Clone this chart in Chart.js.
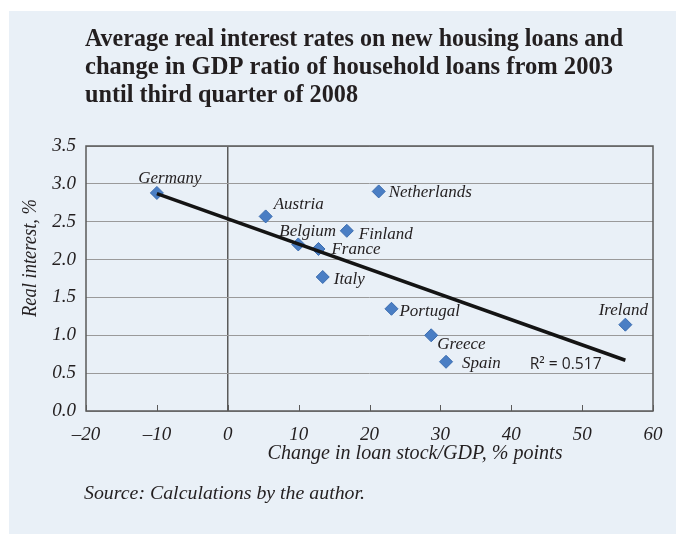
<!DOCTYPE html>
<html>
<head>
<meta charset="utf-8">
<script src="https://cdn.jsdelivr.net/npm/chart.js@4/dist/chart.umd.min.js"></script>
<style>
html,body{margin:0;padding:0;background:#fff;}
#wrap{width:676px;height:534px;position:relative;}
</style>
</head>
<body>
<div id="wrap"><canvas id="c" width="676" height="534"></canvas></div>
<script>
// ---- data ----
const countries    = ['Germany','Austria','Belgium','France','Italy','Finland','Netherlands','Portugal','Greece','Spain','Ireland'];
const loanChange   = [-10.0, 5.35, 9.95, 12.8, 13.4, 16.8, 21.3, 23.1, 28.7, 30.8, 56.1];
const realInterest = [2.88, 2.57, 2.20, 2.14, 1.77, 2.38, 2.90, 1.35, 1.00, 0.65, 1.14];
const trendX = [-10, 56.1];
const trendY = [2.87, 0.67];
const rSquaredText = 'R² = 0.517';
const xTickValues = [-20, -10, 0, 10, 20, 30, 40, 50, 60];
const xTickLabels = ['–20', '–10', '0', '10', '20', '30', '40', '50', '60'];
const yTickValues = [0, 0.5, 1, 1.5, 2, 2.5, 3, 3.5];
const yTickLabels = ['0.0', '0.5', '1.0', '1.5', '2.0', '2.5', '3.0', '3.5'];
const titleLines = ['Average real interest rates on new housing loans and',
                    'change in GDP ratio of household loans from 2003',
                    'until third quarter of 2008'];
const xAxisTitle = 'Change in loan stock/GDP, % points';
const yAxisTitle = 'Real interest, %';
const sourceText = 'Source: Calculations by the author.';

// ---- label placement (pixel offsets from each point) ----
const labelPlacement = {
  Germany:     {dx: 13,  dy: -10, align: 'center'},
  Austria:     {dx: 8,   dy: -7,  align: 'left'},
  Belgium:     {dx: -19, dy: -8,  align: 'left'},
  Finland:     {dx: 12,  dy: 8,   align: 'left'},
  France:      {dx: 13,  dy: 5,   align: 'left'},
  Italy:       {dx: 11,  dy: 7,   align: 'left'},
  Netherlands: {dx: 10,  dy: 6,   align: 'left'},
  Portugal:    {dx: 8,   dy: 7,   align: 'left'},
  Greece:      {dx: 6,   dy: 14,  align: 'left'},
  Spain:       {dx: 16,  dy: 6,   align: 'left'},
  Ireland:     {dx: -2,  dy: -10, align: 'center'}
};
const rSquaredPos = {x: 42.6, y: 0.56};

const TEXT = '#231f20';
const SERIF = '"Liberation Serif", "DejaVu Serif", serif';
const BORDER = '#5a5a5a';
const GRID = '#9a9a9a';

function fitText(ctx, text, x, y, width, font, align) {
  ctx.font = font;
  const w = ctx.measureText(text).width;
  const s = width / w;
  ctx.save();
  ctx.translate(x, y);
  ctx.scale(s, 1);
  ctx.textAlign = align;
  ctx.textBaseline = 'alphabetic';
  ctx.fillText(text, 0, 0);
  ctx.restore();
}

const decor = {
  id: 'decor',
  beforeDraw(chart) {
    const ctx = chart.ctx;
    ctx.save();
    ctx.fillStyle = '#ffffff';
    ctx.fillRect(0, 0, chart.width, chart.height);
    ctx.fillStyle = '#e9f0f7';
    ctx.fillRect(9, 11, chart.width - 9, chart.height - 11);
    ctx.restore();
  },
  afterDraw(chart) {
    const ctx = chart.ctx;
    const a = chart.chartArea;
    const xs = chart.scales.x, ys = chart.scales.y;
    ctx.save();
    // plot frame
    ctx.strokeStyle = BORDER;
    ctx.lineWidth = 1.5;
    ctx.strokeRect(a.left, a.top, a.right - a.left, a.bottom - a.top);
    // inward tick marks on x axis
    ctx.lineWidth = 1;
    xTickValues.forEach(v => {
      const px = Math.round(xs.getPixelForValue(v)) + 0.5;
      ctx.beginPath();
      ctx.moveTo(px, a.bottom);
      ctx.lineTo(px, a.bottom - 6);
      ctx.stroke();
    });
    // point labels
    ctx.fillStyle = TEXT;
    ctx.font = 'italic 17px ' + SERIF;
    ctx.textBaseline = 'alphabetic';
    countries.forEach((name, i) => {
      const p = labelPlacement[name];
      const px = xs.getPixelForValue(loanChange[i]);
      const py = ys.getPixelForValue(realInterest[i]);
      ctx.textAlign = p.align;
      ctx.fillText(name, px + p.dx, py + p.dy);
    });
    // R squared
    ctx.font = '15.5px "Open Sans", "Liberation Sans", sans-serif';
    ctx.textAlign = 'left';
    fitText(ctx, rSquaredText, xs.getPixelForValue(rSquaredPos.x), ys.getPixelForValue(rSquaredPos.y), 72,
            '15.5px "Open Sans", "Liberation Sans", sans-serif', 'left');
    // title
    const titleWidths = [538, 528, 273];
    titleLines.forEach((t, i) => {
      fitText(ctx, t, 85, 46 + i * 28, titleWidths[i], 'bold 26px ' + SERIF, 'left');
    });
    // axis titles
    fitText(ctx, xAxisTitle, 415, 459, 295, 'italic 20px ' + SERIF, 'center');
    ctx.save();
    ctx.translate(36, 258);
    ctx.rotate(-Math.PI / 2);
    fitText(ctx, yAxisTitle, 0, 0, 118, 'italic 20px ' + SERIF, 'center');
    ctx.restore();
    // source
    fitText(ctx, sourceText, 84, 499, 281, 'italic 19px ' + SERIF, 'left');
    ctx.restore();
  }
};

const points = countries.map((c, i) => ({x: loanChange[i], y: realInterest[i]}));
const trend = trendX.map((x, i) => ({x: x, y: trendY[i]}));

new Chart(document.getElementById('c'), {
  type: 'scatter',
  data: {
    datasets: [
      {
        label: 'Trend',
        data: trend,
        showLine: true,
        borderColor: '#141414',
        borderWidth: 3.5,
        pointRadius: 0,
        fill: false,
        order: 0
      },
      {
        label: 'Countries',
        data: points,
        pointStyle: 'rectRot',
        pointRadius: 6.5,
        pointHoverRadius: 6.5,
        backgroundColor: '#4a7ec4',
        borderColor: '#3a6cb0',
        borderWidth: 1,
        order: 1
      }
    ]
  },
  options: {
    responsive: false,
    animation: false,
    events: [],
    layout: {padding: {left: 0, top: 146, right: 23, bottom: 0}},
    plugins: {legend: {display: false}, tooltip: {enabled: false}, title: {display: false}},
    scales: {
      x: {
        type: 'linear',
        min: -20, max: 60,
        afterFit(s) { s.height = 123; },
        afterBuildTicks(s) { s.ticks = xTickValues.map(v => ({value: v})); },
        border: {display: false},
        grid: {
          drawTicks: false,
          lineWidth: 1.5,
          color: c => (c.tick && c.tick.value === 0) ? BORDER : 'rgba(0,0,0,0)'
        },
        ticks: {
          padding: 13,
          color: TEXT,
          font: {family: SERIF, style: 'italic', size: 19},
          callback: (v) => { const i = xTickValues.indexOf(v); return i >= 0 ? xTickLabels[i] : ''; }
        }
      },
      y: {
        type: 'linear',
        min: 0, max: 3.5,
        afterFit(s) { s.width = 86; },
        afterBuildTicks(s) { s.ticks = yTickValues.map(v => ({value: v})); },
        border: {display: false},
        grid: {drawTicks: false, color: GRID, lineWidth: 1},
        ticks: {
          padding: 10,
          color: TEXT,
          font: {family: SERIF, style: 'italic', size: 19},
          callback: (v) => { const i = yTickValues.indexOf(v); return i >= 0 ? yTickLabels[i] : ''; }
        }
      }
    }
  },
  plugins: [decor]
});
</script>
</body>
</html>
